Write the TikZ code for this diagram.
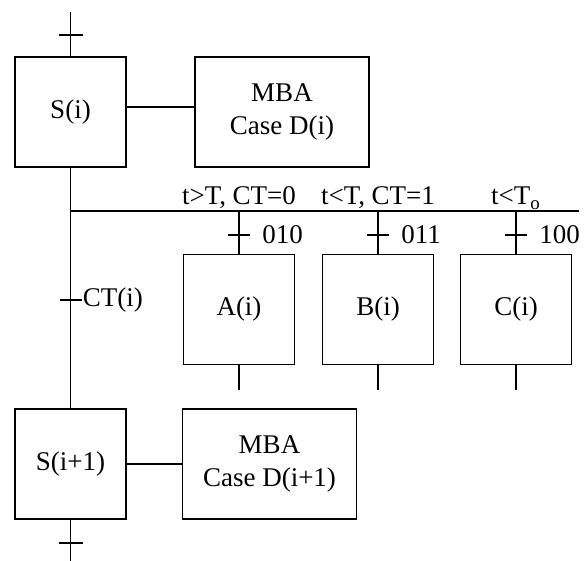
\documentclass[tikz,border=0pt]{standalone}
\usepackage{fontspec}
\setmainfont{Liberation Serif}
\usetikzlibrary{positioning,calc}
\tikzset{
  stp/.style ={draw,line width=0.9pt,minimum width=55.5pt,minimum height=55pt,
               inner sep=0pt,align=center},
  act/.style ={stp,minimum width=87pt},
  lnk/.style ={line width=0.9pt},
  tag/.style ={inner sep=0pt},
}

\begin{document}
\begin{tikzpicture}[x=0.5pt,y=-0.5pt,font=\fontsize{13.5}{16.5}\selectfont]
\useasboundingbox (0,0) rectangle (585,561);

% steps i and i+1 with their actions
\node[stp] (si) at (70.5,112) {S(i)};
\node[act] (di) at (282,112) {MBA\\Case D(i)};
\node[stp] (sj) at (70.5,464) {S(i+1)};
\node[act] (dj) at (269.5,464) {MBA\\Case D(i+1)};
\draw[lnk] ([yshift=2.5pt]si.east) -- ([yshift=2.5pt]di.west);
\draw[lnk] (sj.east) -- (dj.west);

% entry, exit and the main line
\coordinate (top) at (70.5,12);
\coordinate (bot) at (70.5,561);
\coordinate (tin) at (70.5,35);
\coordinate (tout) at (70.5,543);
\draw[lnk] (top) -- (si.north);
\draw[lnk] ([xshift=-6pt]tin) -- ([xshift=6pt]tin);
\draw[lnk] (sj.south) -- (bot);
\draw[lnk] ([xshift=-6pt]tout) -- ([xshift=6pt]tout);
\draw[lnk] (si.south) -- (sj.north);

\coordinate (tct) at (70.5,300);
\draw[lnk] ([xshift=-5.5pt]tct) -- ([xshift=5.5pt]tct);
\node[tag,anchor=west] (ct) at ([xshift=6pt]tct) {CT(i)};

% the branch bus
\coordinate (bus) at (70.5,211);
\coordinate (busend) at (579,211);
\draw[lnk] (bus) -- (busend);

\foreach \n/\x/\c/\g/\lab in {a/239/010/{t>T, CT=0}/A(i),
                              b/378/011/{t<T, CT=1}/B(i),
                              c/516/100/{t<T\textsubscript{o}}/C(i)}{
  \node[stp] (\n) at (\x,309.5) {\lab};
  \coordinate (\n top) at (\x,211);
  \coordinate (\n tk) at (\x,235);
  \coordinate (\n end) at (\x,390);
  \draw[lnk] (\n top) -- (\n.north);
  \draw[lnk] ([xshift=-5.5pt]\n tk) -- ([xshift=5.5pt]\n tk);
  \draw[lnk] (\n.south) -- (\n end);
  \node[tag,anchor=west] (\n code) at ([xshift=11.5pt]\n tk) {\c};
  \node[tag,anchor=base] (\n cond) at (\x,205) {\g};
}
\end{tikzpicture}
\end{document}
